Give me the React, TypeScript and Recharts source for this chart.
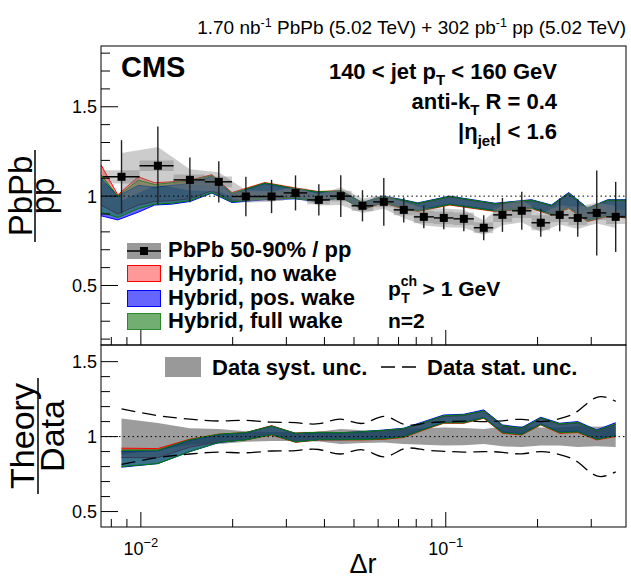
import React from "react";
import {
  Area,
  ComposedChart,
  ErrorBar,
  Line,
  ReferenceArea,
  ReferenceLine,
  Scatter,
  XAxis,
  YAxis,
} from "recharts";

const FONT = '"Liberation Sans", Arial, Helvetica, sans-serif';

// ---- axes ----
const X_DOMAIN = [0.0074, 0.39];
const X_TICKS = [0.008, 0.009, 0.01, 0.02, 0.03, 0.04, 0.05, 0.06, 0.07, 0.08, 0.09, 0.1, 0.2, 0.3];
const X_MAJOR = [0.01, 0.1];
const X_MAJOR_EXP = ["\u22122", "\u22121"];

const Y_TOP_DOMAIN = [0.167, 1.84];
const Y_TOP_TICKS = [0.2, 0.3, 0.4, 0.5, 0.6, 0.7, 0.8, 0.9, 1, 1.1, 1.2, 1.3, 1.4, 1.5, 1.6, 1.7, 1.8];
const Y_BOT_DOMAIN = [0.397, 1.611];
const Y_BOT_TICKS = [0.5, 0.6, 0.7, 0.8, 0.9, 1, 1.1, 1.2, 1.3, 1.4, 1.5];
const Y_MAJOR = [0.5, 1, 1.5];
const Y_MAJOR_LABELS = ["0.5", "1", "1.5"];

// ---- data: PbPb 50-90% / pp ----
const BIN_EDGES = [
  0.0075, 0.0099, 0.0128, 0.0162, 0.0199, 0.0243, 0.0294, 0.0351, 0.0417, 0.0491, 0.0578, 0.0675,
  0.0786, 0.0914, 0.106, 0.1236, 0.143, 0.165, 0.191, 0.22, 0.2527, 0.291, 0.336, 0.387,
];
const BIN_CENTERS = [
  0.00864, 0.01137, 0.01448, 0.01801, 0.0221, 0.02683, 0.03215, 0.03834, 0.04525, 0.05331, 0.06262,
  0.07281, 0.08472, 0.09849, 0.1146, 0.1332, 0.1534, 0.1775, 0.2049, 0.2364, 0.2709, 0.3127, 0.3608,
];
const RATIO = [
  1.108, 1.17, 1.091, 1.08, 0.998, 0.998, 1.018, 0.979, 1.0, 0.946, 0.968, 0.923, 0.884, 0.878, 0.873,
  0.823, 0.895, 0.918, 0.851, 0.895, 0.878, 0.906, 0.884,
];
const STAT = [
  0.205, 0.22, 0.125, 0.115, 0.11, 0.093, 0.098, 0.087, 0.117, 0.087, 0.134, 0.07, 0.064, 0.064, 0.07,
  0.07, 0.095, 0.106, 0.078, 0.092, 0.106, 0.238, 0.196,
];
const SYST_REL = [
  0.12, 0.09, 0.055, 0.05, 0.035, 0.03, 0.03, 0.032, 0.05, 0.042, 0.04, 0.05, 0.055, 0.06, 0.058, 0.05,
  0.065, 0.07, 0.06, 0.06, 0.07, 0.065, 0.07,
];
const BOX_HALF = [
  0.037, 0.03, 0.03, 0.03, 0.025, 0.025, 0.025, 0.025, 0.03, 0.03, 0.03, 0.03, 0.035, 0.035, 0.035,
  0.03, 0.04, 0.04, 0.042, 0.04, 0.04, 0.04, 0.04,
];
// dashed lines in the ratio panel (relative stat. unc.)
const STAT_REL = [
  0.185, 0.14, 0.116, 0.104, 0.108, 0.096, 0.093, 0.086, 0.116, 0.088, 0.135, 0.082, 0.088, 0.098,
  0.103, 0.1, 0.105, 0.115, 0.1, 0.12, 0.17, 0.262, 0.235,
];

// ---- hybrid model, top panel ----
const THEORY_X = [
  0.0074, 0.0084, 0.0098, 0.0111, 0.0126, 0.0145, 0.0171, 0.0199, 0.0255, 0.032, 0.038, 0.0455, 0.0533,
  0.0622, 0.0723, 0.0809, 0.103, 0.145, 0.191, 0.222, 0.253, 0.292, 0.34, 0.39,
];
const NOWAKE_HI = [1.175, 1.007, 1.108, 1.075, 1.08, 1.09, 1.12, 1.02, 1.076, 1.046, 1.026, 1.03, 0.96, 0.995, 0.975, 0.958, 0.995, 0.955, 0.975, 0.945, 1.012, 0.93, 0.975, 0.975];
const NOWAKE_LO = [0.95, 0.9, 0.95, 0.97, 0.975, 0.985, 1.03, 0.975, 0.995, 0.99, 0.975, 0.995, 0.923, 0.962, 0.93, 0.914, 0.95, 0.914, 0.93, 0.895, 0.93, 0.858, 0.886, 0.878];
const POSWAKE_HI = [1.1, 1.0, 1.06, 1.05, 1.06, 1.07, 1.11, 1.01, 1.07, 1.04, 1.022, 1.028, 0.964, 1.0, 0.98, 0.962, 1.0, 0.96, 0.98, 0.95, 1.02, 0.933, 0.98, 0.98];
const POSWAKE_LO = [0.89, 0.867, 0.91, 0.95, 0.955, 0.97, 1.017, 0.964, 0.98, 0.985, 0.97, 0.99, 0.93, 0.968, 0.938, 0.92, 0.956, 0.92, 0.936, 0.902, 0.94, 0.868, 0.895, 0.888];
const FULLWAKE_HI = [1.12, 1.0, 1.09, 1.065, 1.075, 1.085, 1.115, 1.015, 1.073, 1.043, 1.024, 1.029, 0.962, 0.998, 0.978, 0.96, 0.998, 0.958, 0.978, 0.948, 1.016, 0.931, 0.978, 0.978];
const FULLWAKE_LO = [0.91, 0.88, 0.93, 0.955, 0.96, 0.975, 1.02, 0.968, 0.985, 0.987, 0.972, 0.992, 0.926, 0.965, 0.934, 0.917, 0.953, 0.917, 0.933, 0.898, 0.935, 0.862, 0.89, 0.882];

// ---- hybrid model / data, ratio panel (at data bins) ----
const R_NOWAKE_HI = [0.923, 0.92, 0.983, 1.016, 1.027, 1.073, 1.022, 1.029, 1.027, 1.03, 1.04, 1.05, 1.09, 1.135, 1.14, 1.17, 1.07, 1.05, 1.12, 1.08, 1.09, 1.035, 1.08];
const R_NOWAKE_LO = [0.86, 0.86, 0.93, 0.965, 0.978, 1.011, 0.962, 0.978, 0.978, 0.978, 0.982, 0.994, 1.044, 1.089, 1.089, 1.122, 1.022, 1.011, 1.078, 1.022, 1.027, 0.978, 1.0];
const R_POSWAKE_HI = [0.9, 0.905, 0.975, 1.012, 1.025, 1.07, 1.02, 1.027, 1.025, 1.033, 1.044, 1.056, 1.1, 1.144, 1.149, 1.178, 1.078, 1.06, 1.129, 1.089, 1.1, 1.044, 1.093];
const R_POSWAKE_LO = [0.796, 0.82, 0.9, 0.96, 0.98, 1.015, 0.966, 0.98, 0.98, 0.982, 0.99, 1.0, 1.05, 1.095, 1.095, 1.128, 1.03, 1.018, 1.085, 1.03, 1.035, 0.985, 1.008];
const R_FULLWAKE_HI = [0.91, 0.91, 0.98, 1.016, 1.027, 1.07, 1.022, 1.029, 1.027, 1.032, 1.042, 1.054, 1.095, 1.14, 1.145, 1.172, 1.074, 1.055, 1.125, 1.085, 1.095, 1.04, 1.085];
const R_FULLWAKE_LO = [0.8, 0.82, 0.9, 0.962, 0.978, 1.013, 0.964, 0.979, 0.979, 0.98, 0.985, 0.997, 1.047, 1.092, 1.092, 1.125, 1.026, 1.014, 1.08, 1.026, 1.031, 0.981, 1.004];

const topTheory = THEORY_X.map((x, i) => ({
  x,
  nowake: [NOWAKE_LO[i], NOWAKE_HI[i]],
  poswake: [POSWAKE_LO[i], POSWAKE_HI[i]],
  fullwake: [FULLWAKE_LO[i], FULLWAKE_HI[i]],
}));

const points = BIN_CENTERS.map((x, i) => ({
  x,
  y: RATIO[i],
  ey: STAT[i],
  ex: [x - BIN_EDGES[i], BIN_EDGES[i + 1] - x],
  syst: [RATIO[i] * (1 - SYST_REL[i]), RATIO[i] * (1 + SYST_REL[i])],
}));

const ratioTheory = BIN_CENTERS.map((x, i) => ({
  x,
  nowake: [R_NOWAKE_LO[i], R_NOWAKE_HI[i]],
  poswake: [R_POSWAKE_LO[i], R_POSWAKE_HI[i]],
  fullwake: [R_FULLWAKE_LO[i], R_FULLWAKE_HI[i]],
}));

const ratioData = BIN_CENTERS.map((x, i) => ({
  x,
  syst: [1 - SYST_REL[i], 1 + SYST_REL[i]],
  up: 1 + STAT_REL[i],
  dn: 1 - STAT_REL[i],
}));

const MODELS = [
  { key: "nowake", color: "#ff0000", opacity: 0.4 },
  { key: "poswake", color: "#0000ff", opacity: 0.6 },
  { key: "fullwake", color: "#008000", opacity: 0.45 },
];

const near = (a: number, b: number) => Math.abs(a - b) < 1e-6 * Math.max(1e-3, Math.abs(b));

function YTick(props: any) {
  const { x, y, payload } = props;
  const i = Y_MAJOR.findIndex((m) => near(m, payload.value));
  const major = i >= 0;
  return (
    <g>
      <line x1={x} x2={x + (major ? 17 : 9)} y1={y} y2={y} stroke="#000" strokeWidth={1} />
      {major && (
        <text x={x - 4} y={y + 6.5} textAnchor="end" fontSize={18} fontFamily={FONT} fill="#000">
          {Y_MAJOR_LABELS[i]}
        </text>
      )}
    </g>
  );
}

function makeXTick(labels: boolean) {
  return (props: any) => {
    const { x, y, payload } = props;
    const i = X_MAJOR.findIndex((m) => near(m, payload.value));
    const major = i >= 0;
    return (
      <g>
        <line x1={x} x2={x} y1={y} y2={y - (major ? 15 : 8)} stroke="#000" strokeWidth={1} />
        {labels && major && (
          <text x={x} y={y + 28} textAnchor="middle" fontSize={18} fontFamily={FONT} fill="#000">
            10
            <tspan dy={-8} fontSize={13}>
              {X_MAJOR_EXP[i]}
            </tspan>
          </text>
        )}
      </g>
    );
  };
}

const square = (p: any) => <rect x={p.cx - 4} y={p.cy - 4} width={8} height={8} fill="#000" />;

function TopPanel() {
  return (
    <ComposedChart width={631} height={375} margin={{ top: 46, right: 5, bottom: 0, left: 0 }}>
      <XAxis
        dataKey="x"
        type="number"
        scale="log"
        domain={X_DOMAIN}
        allowDataOverflow
        ticks={X_TICKS}
        interval={0}
        tick={makeXTick(false)}
        tickLine={false}
        axisLine={false}
        tickSize={0}
        tickMargin={0}
        height={30}
      />
      <YAxis
        dataKey="y"
        type="number"
        domain={Y_TOP_DOMAIN}
        allowDataOverflow
        ticks={Y_TOP_TICKS}
        interval={0}
        tick={(p: any) => <YTick {...p} />}
        tickLine={false}
        axisLine={false}
        tickSize={0}
        tickMargin={0}
        width={101}
      />
      {MODELS.map((m) => (
        <Area
          key={m.key}
          data={topTheory}
          dataKey={m.key}
          type="linear"
          stroke={m.color}
          strokeWidth={1}
          fill={m.color}
          fillOpacity={m.opacity}
          dot={false}
          activeDot={false}
          isAnimationActive={false}
        />
      ))}
      <Area
        data={points}
        dataKey="syst"
        type="linear"
        stroke="none"
        fill="#808080"
        fillOpacity={0.4}
        dot={false}
        activeDot={false}
        isAnimationActive={false}
      />
      {points.map((p, i) => (
        <ReferenceArea
          key={i}
          x1={BIN_EDGES[i]}
          x2={BIN_EDGES[i + 1]}
          y1={p.y - BOX_HALF[i]}
          y2={p.y + BOX_HALF[i]}
          fill="#707070"
          fillOpacity={0.35}
          stroke="none"
        />
      ))}
      <ReferenceLine y={1} stroke="#000" strokeWidth={1} strokeDasharray="1.5 3" />
      <Scatter data={points} dataKey="y" shape={square} isAnimationActive={false}>
        <ErrorBar dataKey="ey" direction="y" width={0} stroke="#222" strokeWidth={1.4} />
        <ErrorBar dataKey="ex" direction="x" width={0} stroke="#000" strokeWidth={1.4} />
      </Scatter>
    </ComposedChart>
  );
}

function BottomPanel() {
  return (
    <ComposedChart width={631} height={579} margin={{ top: 345, right: 5, bottom: 0, left: 0 }}>
      <XAxis
        dataKey="x"
        type="number"
        scale="log"
        domain={X_DOMAIN}
        allowDataOverflow
        ticks={X_TICKS}
        interval={0}
        tick={makeXTick(true)}
        tickLine={false}
        axisLine={false}
        tickSize={0}
        tickMargin={0}
        height={52}
      />
      <YAxis
        type="number"
        domain={Y_BOT_DOMAIN}
        allowDataOverflow
        ticks={Y_BOT_TICKS}
        interval={0}
        tick={(p: any) => <YTick {...p} />}
        tickLine={false}
        axisLine={false}
        tickSize={0}
        tickMargin={0}
        width={101}
      />
      <Area
        data={ratioData}
        dataKey="syst"
        type="linear"
        stroke="none"
        fill="#9c9c9c"
        fillOpacity={1}
        dot={false}
        activeDot={false}
        isAnimationActive={false}
      />
      {MODELS.map((m) => (
        <Area
          key={m.key}
          data={ratioTheory}
          dataKey={m.key}
          type="linear"
          stroke={m.color}
          strokeWidth={1}
          fill={m.color}
          fillOpacity={m.opacity}
          dot={false}
          activeDot={false}
          isAnimationActive={false}
        />
      ))}
      {["up", "dn"].map((k) => (
        <Line
          key={k}
          data={ratioData}
          dataKey={k}
          type="natural"
          stroke="#000"
          strokeWidth={1.3}
          strokeDasharray="14 7"
          dot={false}
          activeDot={false}
          isAnimationActive={false}
        />
      ))}
      <ReferenceLine y={1} stroke="#000" strokeWidth={1} strokeDasharray="1.5 3" />
    </ComposedChart>
  );
}

function Overlay() {
  const b = { fontFamily: FONT, fontWeight: 700, fill: "#000" } as const;
  return (
    <svg
      width={631}
      height={579}
      style={{ position: "absolute", left: 0, top: 0, pointerEvents: "none" }}
    >
      {/* frames */}
      <rect x={101} y={46} width={525} height={299} fill="none" stroke="#000" strokeWidth={1} />
      <rect x={101} y={345} width={525} height={182} fill="none" stroke="#000" strokeWidth={1} />

      <text x={626} y={34} textAnchor="end" fontSize={19} fontFamily={FONT}>
        1.70 nb<tspan dy={-7} fontSize={12.5}>-1</tspan>
        <tspan dy={7}> PbPb (5.02 TeV) + 302 pb</tspan>
        <tspan dy={-7} fontSize={12.5}>-1</tspan>
        <tspan dy={7}> pp (5.02 TeV)</tspan>
      </text>

      <text x={121} y={77} fontSize={29} {...b}>CMS</text>

      <text x={557} y={79} textAnchor="end" fontSize={22} {...b}>
        140 &lt; jet p<tspan dy={6} fontSize={15}>T</tspan>
        <tspan dy={-6}> &lt; 160 GeV</tspan>
      </text>
      <text x={557} y={109} textAnchor="end" fontSize={22} {...b}>
        anti-k<tspan dy={6} fontSize={15}>T</tspan>
        <tspan dy={-6}> R = 0.4</tspan>
      </text>
      <text x={557} y={139} textAnchor="end" fontSize={22} {...b}>
        |η<tspan dy={7} fontSize={15}>jet</tspan>
        <tspan dy={-7}>| &lt; 1.6</tspan>
      </text>

      {/* top legend */}
      <rect x={127} y={243} width={34} height={16} fill="#999" />
      <line x1={127} x2={161} y1={251} y2={251} stroke="#000" strokeWidth={1.5} />
      <rect x={140} y={247} width={8} height={8} fill="#000" />
      <rect x={127.5} y={265.5} width={33} height={16} fill="#ff9999" stroke="#ff0000" strokeWidth={1} />
      <rect x={127.5} y={290.5} width={33} height={16} fill="#6666ff" stroke="#0000ff" strokeWidth={1} />
      <rect x={127.5} y={313.5} width={33} height={16} fill="#72ad72" stroke="#2a8a2a" strokeWidth={1} />
      <text x={168} y={257} fontSize={22} {...b}>PbPb 50-90% / pp</text>
      <text x={168} y={281} fontSize={22} {...b}>Hybrid, no wake</text>
      <text x={168} y={305} fontSize={22} {...b}>Hybrid, pos. wake</text>
      <text x={168} y={328} fontSize={22} {...b}>Hybrid, full wake</text>

      <text x={388} y={296} fontSize={21} {...b}>
        p<tspan dy={-10} fontSize={14}>ch</tspan>
        <tspan dx={-16} dy={17} fontSize={14}>T</tspan>
        <tspan dx={7} dy={-7}> &gt; 1 GeV</tspan>
      </text>
      <text x={388} y={328} fontSize={21} {...b}>n=2</text>

      {/* bottom legend */}
      <rect x={165} y={357} width={36} height={20} fill="#999" />
      <text x={212} y={375} fontSize={22} {...b}>Data syst. unc.</text>
      <line x1={381} x2={419} y1={367} y2={367} stroke="#000" strokeWidth={1.3} strokeDasharray="14 7" />
      <text x={427} y={375} fontSize={22} {...b}>Data stat. unc.</text>

      {/* axis titles */}
      <g transform="translate(35,196) rotate(-90)">
        <text x={0} y={-3} textAnchor="middle" fontSize={33} fontFamily={FONT}>PbPb</text>
        <line x1={-46} x2={46} y1={0} y2={0} stroke="#000" strokeWidth={1.5} />
        <text x={0} y={19} textAnchor="middle" fontSize={33} fontFamily={FONT}>pp</text>
      </g>
      <g transform="translate(38,436) rotate(-90)">
        <text x={0} y={-4} textAnchor="middle" fontSize={34} fontFamily={FONT}>Theory</text>
        <line x1={-58} x2={58} y1={0} y2={0} stroke="#000" strokeWidth={1.5} />
        <text x={0} y={26} textAnchor="middle" fontSize={34} fontFamily={FONT}>Data</text>
      </g>
      <text x={363} y={573} textAnchor="middle" fontSize={27} fontFamily={FONT}>
        Δr
      </text>
    </svg>
  );
}

export default function App() {
  return (
    <div style={{ position: "absolute", left: 0, top: 0, width: 631, height: 579, background: "#fff" }}>
      <div style={{ position: "absolute", left: 0, top: 0 }}>
        <TopPanel />
      </div>
      <div style={{ position: "absolute", left: 0, top: 0 }}>
        <BottomPanel />
      </div>
      <Overlay />
    </div>
  );
}
